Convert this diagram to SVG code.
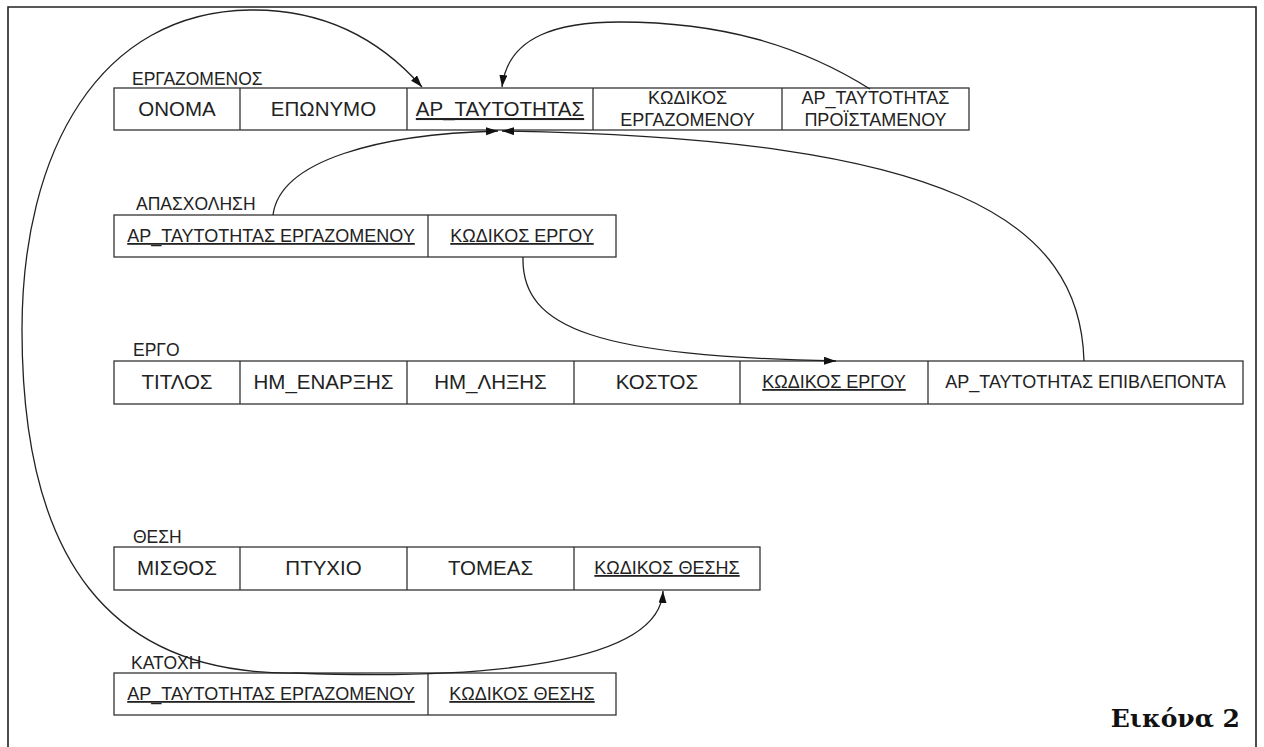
<svg xmlns="http://www.w3.org/2000/svg" width="1264" height="747" viewBox="0 0 1264 747">
<style>
.cell{fill:#fff;stroke:#333;stroke-width:1.3}
.div{stroke:#333;stroke-width:1.3}
.t{font-family:"Liberation Sans",Arial,sans-serif;font-size:20.5px;fill:#222;text-anchor:middle}
.s{font-size:18px}
.lbl{font-family:"Liberation Sans",Arial,sans-serif;font-size:17.5px;fill:#222}
.u{text-decoration:underline}
.conn{fill:none;stroke:#222;stroke-width:1.3;marker-end:url(#ah)}
.frame{fill:none;stroke:#222;stroke-width:1.6}
</style>
<defs>
<marker id="ah" markerUnits="userSpaceOnUse" markerWidth="13" markerHeight="9" refX="12" refY="4" orient="auto">
<path d="M0,0 L12,4 L0,8 z" fill="#111"/>
</marker>
</defs>
<rect width="1264" height="747" fill="#fff"/>
<path class="frame" d="M8,747 V7 H1256 V747"/>

<g id="ergazomenos">
<text class="lbl" x="132" y="85">ΕΡΓΑΖΟΜΕΝΟΣ</text>
<rect class="cell" x="114" y="88" width="855" height="42"/>
<path class="div" d="M240,88V130M407,88V130M593,88V130M782,88V130"/>
<text class="t" x="177" y="116">ΟΝΟΜΑ</text>
<text class="t" x="323.5" y="116">ΕΠΩΝΥΜΟ</text>
<text class="t u" x="500" y="116">ΑΡ_ΤΑΥΤΟΤΗΤΑΣ</text>
<text class="t s" x="687.5" y="104">ΚΩΔΙΚΟΣ</text>
<text class="t s" x="687.5" y="126">ΕΡΓΑΖΟΜΕΝΟΥ</text>
<text class="t s" x="875.5" y="104">ΑΡ_ΤΑΥΤΟΤΗΤΑΣ</text>
<text class="t s" x="875.5" y="126">ΠΡΟΪΣΤΑΜΕΝΟΥ</text>
</g>

<g id="apasxolisi">
<text class="lbl" x="136" y="210">ΑΠΑΣΧΟΛΗΣΗ</text>
<rect class="cell" x="114" y="215" width="502" height="42"/>
<path class="div" d="M428,215V257"/>
<text class="t s u" x="271" y="242">ΑΡ_ΤΑΥΤΟΤΗΤΑΣ ΕΡΓΑΖΟΜΕΝΟΥ</text>
<text class="t s u" x="522" y="242">ΚΩΔΙΚΟΣ ΕΡΓΟΥ</text>
</g>

<g id="ergo">
<text class="lbl" x="133" y="356">ΕΡΓΟ</text>
<rect class="cell" x="114" y="361" width="1129" height="43"/>
<path class="div" d="M240,361V404M407,361V404M574,361V404M740,361V404M928,361V404"/>
<text class="t" x="177" y="389">ΤΙΤΛΟΣ</text>
<text class="t" x="323.5" y="389">ΗΜ_ΕΝΑΡΞΗΣ</text>
<text class="t" x="490.5" y="389">ΗΜ_ΛΗΞΗΣ</text>
<text class="t" x="657" y="389">ΚΟΣΤΟΣ</text>
<text class="t s u" x="834" y="388">ΚΩΔΙΚΟΣ ΕΡΓΟΥ</text>
<text class="t s" x="1085.5" y="388">ΑΡ_ΤΑΥΤΟΤΗΤΑΣ ΕΠΙΒΛΕΠΟΝΤΑ</text>
</g>

<g id="thesi">
<text class="lbl" x="133" y="543">ΘΕΣΗ</text>
<rect class="cell" x="114" y="547" width="646" height="43"/>
<path class="div" d="M240,547V590M407,547V590M574,547V590"/>
<text class="t" x="177" y="575">ΜΙΣΘΟΣ</text>
<text class="t" x="323.5" y="575">ΠΤΥΧΙΟ</text>
<text class="t" x="490.5" y="575">ΤΟΜΕΑΣ</text>
<text class="t s u" x="667" y="574">ΚΩΔΙΚΟΣ ΘΕΣΗΣ</text>
</g>

<g id="katoxi">
<text class="lbl" x="131" y="669">ΚΑΤΟΧΗ</text>
<rect class="cell" x="114" y="673" width="502" height="42"/>
<path class="div" d="M428,673V715"/>
<text class="t s u" x="271" y="700">ΑΡ_ΤΑΥΤΟΤΗΤΑΣ ΕΡΓΑΖΟΜΕΝΟΥ</text>
<text class="t s u" x="522" y="700">ΚΩΔΙΚΟΣ ΘΕΣΗΣ</text>
</g>

<g id="connectors">
<path class="conn" d="M870,89 C800,45 720,22 620,22 C560,22 508,35 502,87"/>
<path class="conn" d="M273,215 C280,160 380,134 498,131"/>
<path class="conn" d="M1084,361 C1080,220 950,138 502,131"/>
<path class="conn" d="M523,257 C521,330 600,356 836,361"/>
<path class="conn" d="M295,673 C480,680 660,665 663,591"/>
<path class="conn" d="M295,673 C110,675 22,560 22,330 C22,150 100,12 250,10 C330,9 385,45 422,87"/>
</g>

<text x="1240" y="727" text-anchor="end" font-family="DejaVu Serif,serif" font-weight="bold" font-size="25" fill="#111">Εικόνα 2</text>
</svg>
